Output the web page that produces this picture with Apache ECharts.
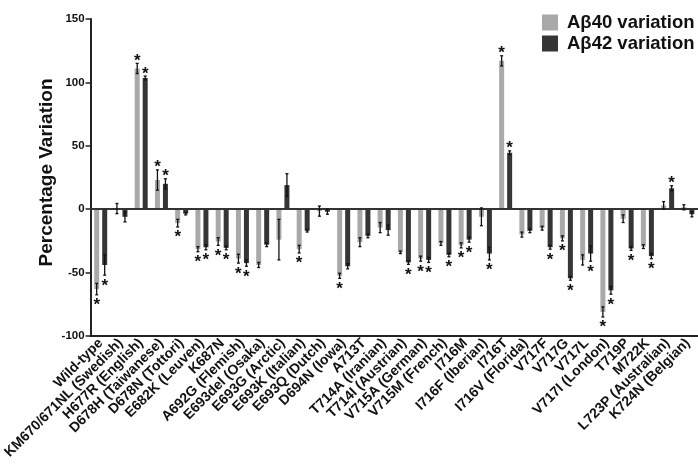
<!DOCTYPE html>
<html>
<head>
<meta charset="utf-8">
<script src="https://cdn.jsdelivr.net/npm/echarts@6/dist/echarts.min.js"></script>
<style>
html,body{margin:0;padding:0;background:#fff;}
#chart{width:698px;height:471px;}
</style>
</head>
<body>
<div id="chart"></div>
<script>
const categories = ['Wild-type','KM670/671NL (Swedish)','H677R (English)','D678H (Taiwanese)','D678N (Tottori)','E682K (Leuven)','K687N','A692G (Flemish)','E693del (Osaka)','E693G (Arctic)','E693K (Italian)','E693Q (Dutch)','D694N (Iowa)','A713T','T714A (Iranian)','T714I (Austrian)','V715A (German)','V715M (French)','I716M','I716F (Iberian)','I716T','I716V (Florida)','V717F','V717G','V717L','V717I (London)','T719P','M722K','L723P (Australian)','K724N (Belgian)'];
const ab40 = [-63,0.5,111,23,-11,-31.5,-25.5,-39,-44,-24,-31.5,-1.5,-52.5,-26,-14.5,-34,-39,-27,-28.5,-6,117,-20,-15,-23,-40,-81,-7.5,-29.5,3,1.5];
const ab40Err = [4.5,4,4,8,3,2,3,3.5,2,16,3,4,2,3.5,4,1,2,1.5,2,7,4,2,1.5,2,4,4,3,1.5,3,2];
const ab42 = [-44,-6,103.5,20,-3.5,-30,-30.5,-42.5,-28,19,-17,-2,-45,-21,-16.5,-42,-40,-36,-24,-35,44.5,-17,-30,-54.5,-35,-64,-31,-37,16.5,-4];
const ab42Err = [8,4,1.5,4,1,2,1.5,2.5,1.5,9,1,2,2,1.5,4,1.5,2,1.5,2,5,1.5,1.5,1.5,1.5,6,3,1.5,2,2,2];
const sig40 = [1,0,1,1,1,1,1,1,0,0,1,0,1,0,0,0,1,0,1,0,1,0,0,1,0,1,0,0,0,0];
const sig42 = [1,0,1,1,0,1,1,1,0,0,0,0,0,0,0,1,1,1,1,1,1,0,1,1,1,1,1,1,1,0];
const yTicks = [-100,-50,0,50,100,150];
const seriesNames = ['A\u03b240 variation','A\u03b242 variation'];

const FONT = '"Liberation Sans", Arial, sans-serif';
const BAR_W = 5;
const OFFSET = 4;

function errData(vals, errs, sigs){
  return vals.map((v,i)=>[i, v, errs[i], sigs[i]]);
}
function makeRender(offset){
  return function(params, api){
    const idx = api.value(0), v = api.value(1), e = api.value(2), s = api.value(3);
    const c = api.coord([idx, v]);
    const x = c[0] + offset;
    const yTop = api.coord([idx, v + e])[1];
    const yBot = api.coord([idx, v - e])[1];
    const st = {stroke:'#111', lineWidth:1.3};
    const children = [
      {type:'line', shape:{x1:x,y1:yTop,x2:x,y2:yBot}, style:st},
      {type:'line', shape:{x1:x-1.5,y1:yTop,x2:x+1.5,y2:yTop}, style:st},
      {type:'line', shape:{x1:x-1.5,y1:yBot,x2:x+1.5,y2:yBot}, style:st}
    ];
    if (s) {
      const ty = v >= 0 ? yTop - 6 : yBot + 7;
      children.push({type:'text', style:{text:'*', x:x, y:ty + 3.8, align:'center', verticalAlign:'middle', fontSize:17, fontWeight:'bold', fontFamily:FONT, fill:'#111'}});
    }
    return {type:'group', children:children};
  };
}

const chart = echarts.init(document.getElementById('chart'), null, {renderer:'canvas'});
chart.setOption({
  animation:false,
  backgroundColor:'#fff',
  grid:{left:90, right:0, top:19, bottom:135, containLabel:false},
  legend:{
    data:seriesNames, orient:'vertical', left:542, top:13, padding:0,
    itemWidth:16, itemHeight:16, itemGap:2, icon:'rect',
    textStyle:{fontSize:18.5, fontWeight:'bold', color:'#111', fontFamily:FONT, padding:[0,0,0,4]}
  },
  xAxis:{
    type:'category', data:categories, position:'bottom',
    axisLine:{onZero:false, lineStyle:{color:'#222', width:2}},
    axisTick:{alignWithLabel:true, length:5, lineStyle:{color:'#222', width:1.5}},
    axisLabel:{rotate:45, interval:0, fontSize:14, fontWeight:'bold', color:'#111', fontFamily:FONT, margin:5}
  },
  yAxis:{
    type:'value', min:yTicks[0], max:yTicks[yTicks.length-1], interval:50,
    name:'Percentage Variation', nameLocation:'middle', nameGap:34, nameMoveOverlap:false,
    nameTextStyle:{fontSize:19, fontWeight:'bold', color:'#111', fontFamily:FONT, padding:[0,0,0,10]},
    axisLine:{show:true, lineStyle:{color:'#222', width:2}},
    axisTick:{show:true, length:5, lineStyle:{color:'#222', width:1.5}},
    axisLabel:{fontSize:11.5, fontWeight:'bold', color:'#111', fontFamily:FONT, margin:6},
    splitLine:{show:false}
  },
  series:[
    {name:seriesNames[0], type:'bar', data:ab40, barWidth:BAR_W, barGap:'60%', itemStyle:{color:'#a9a9a9'},
     markLine:{silent:true, symbol:'none', label:{show:false}, lineStyle:{color:'#333', width:2, type:'solid'}, data:[{yAxis:0}]}},
    {name:seriesNames[1], type:'bar', data:ab42, barWidth:BAR_W, itemStyle:{color:'#353535'}},
    {name:'err40', type:'custom', renderItem:makeRender(-OFFSET), data:errData(ab40, ab40Err, sig40), z:5},
    {name:'err42', type:'custom', renderItem:makeRender(OFFSET), data:errData(ab42, ab42Err, sig42), z:5}
  ]
});
</script>
</body>
</html>
